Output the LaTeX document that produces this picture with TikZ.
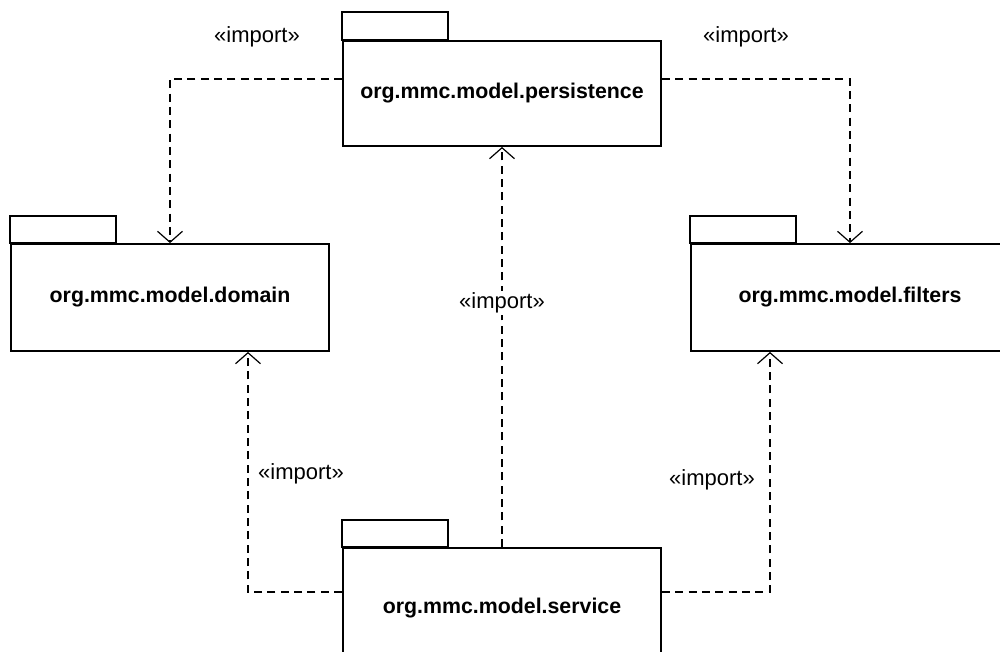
\documentclass[tikz,border=0pt]{standalone}
\usepackage{fontspec}
\setmainfont{Liberation Sans}
\usetikzlibrary{arrows.meta}
\begin{document}
\begin{tikzpicture}[x=0.75pt,y=-0.75pt,
  pkgbody/.style={draw, line width=1.4pt, fill=white, inner sep=0pt, minimum width=238.5pt,
     font=\fontsize{16}{19}\selectfont\bfseries},
  pkgtab/.style={draw, line width=1.4pt},
  dep/.style={draw, line width=0.9pt, dash pattern=on 6pt off 4pt,
     -{Straight Barb[length=8.25pt,width=18.75pt,line width=0.9pt]}},
  lbl/.style={fill=white, inner sep=1pt, font=\fontsize{16.5}{19}\selectfont}]
\useasboundingbox (0,0) rectangle (1000,651);
% packages
\node[pkgbody, minimum height=78.75pt] (pers) at (502,93.5) {org.mmc.model.persistence};
\draw[pkgtab] (pers.north west) rectangle ++(106,-28);
\node[pkgbody, minimum height=80.25pt] (dom) at (170,297.5) {org.mmc.model.domain};
\draw[pkgtab] (dom.north west) rectangle ++(106,-27);
\node[pkgbody, minimum height=80.25pt] (filt) at (850,297.5) {org.mmc.model.filters};
\draw[pkgtab] (filt.north west) rectangle ++(106,-27);
\node[pkgbody, minimum height=90pt] (serv) at (502,608) {org.mmc.model.service};
\draw[pkgtab] (serv.north west) rectangle ++(106,-27);
% dependencies
\draw[dep] ([yshift=10.875pt]pers.west) -| (dom.north);
\draw[dep] ([yshift=10.875pt]pers.east) -| (filt.north);
\draw[dep] (serv.north) -- (pers.south);
\draw[dep] ([yshift=12pt]serv.west) -| ([xshift=58.5pt]dom.south);
\draw[dep] ([yshift=12pt]serv.east) -| ([xshift=-60pt]filt.south);
% labels
\node[lbl] (l1) at (257,37) {«import»};
\node[lbl] (l2) at (746,37) {«import»};
\node[lbl] (l3) at (502,303) {«import»};
\node[lbl] (l4) at (301,474) {«import»};
\node[lbl] (l5) at (712,480) {«import»};
\end{tikzpicture}
\end{document}
